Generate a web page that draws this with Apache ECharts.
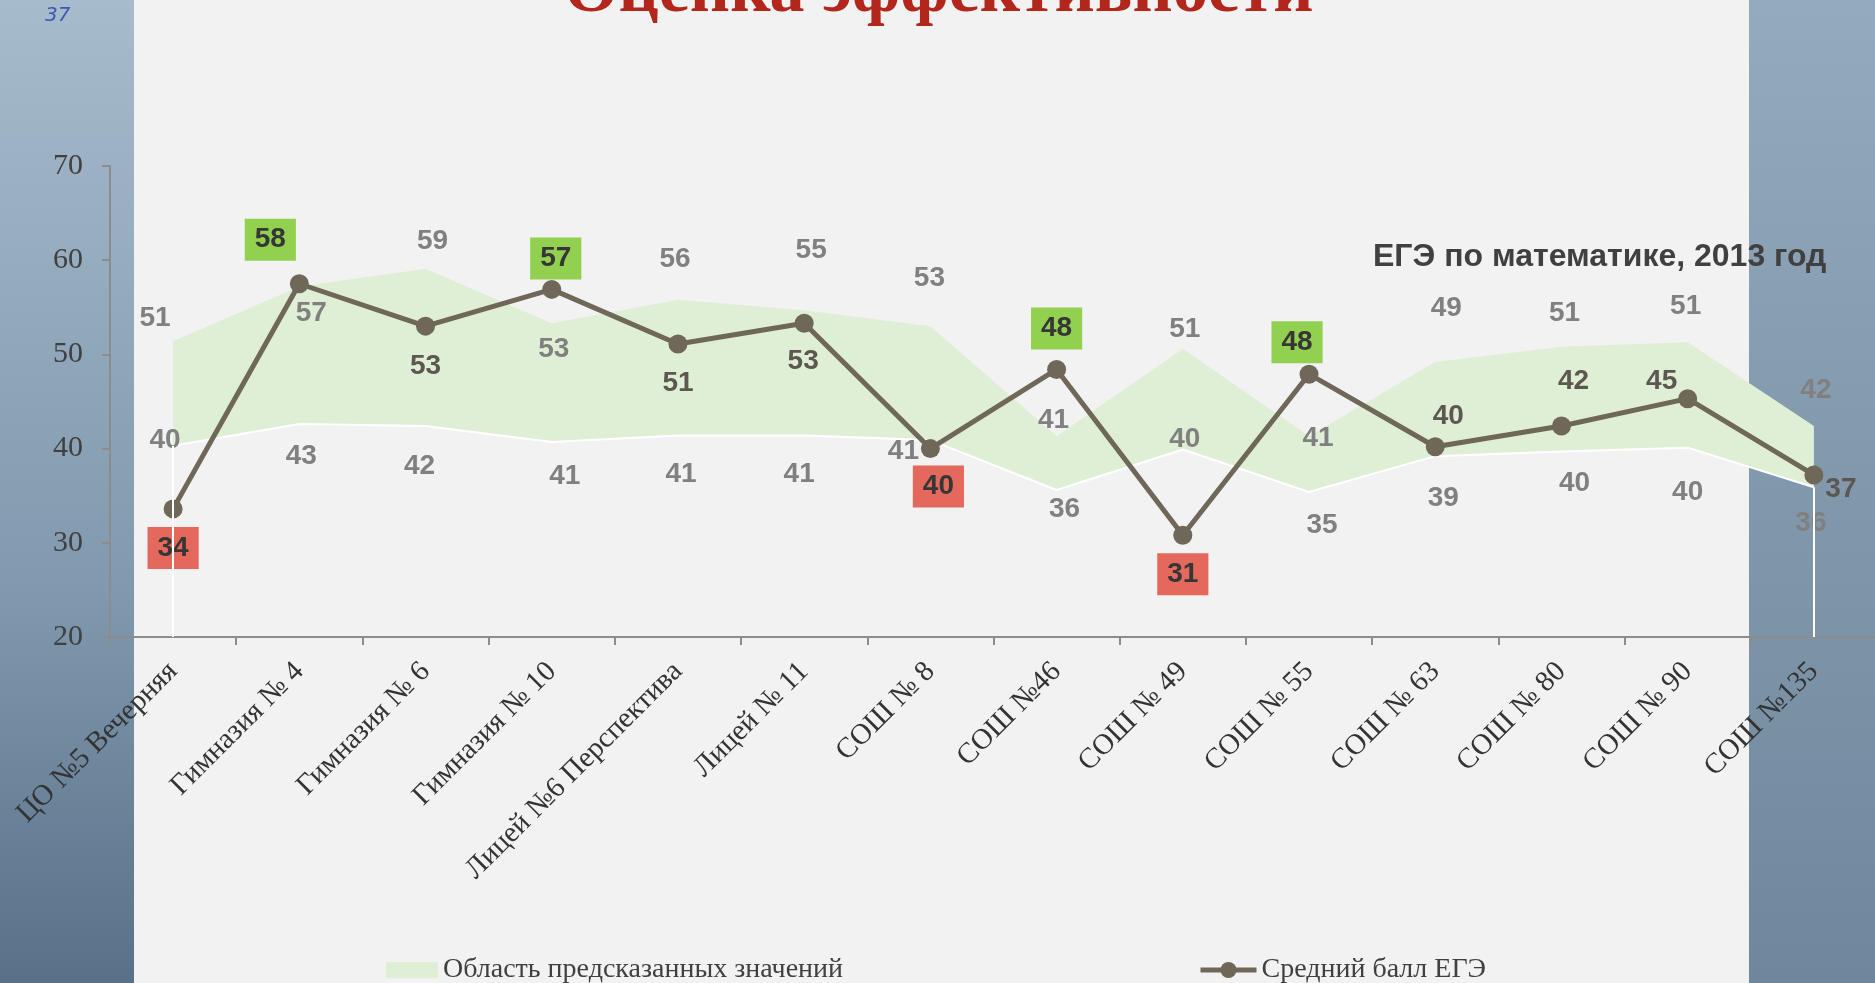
<!DOCTYPE html>
<html>
<head>
<meta charset="utf-8">
<title>Оценка эффективности</title>
<script src="https://cdn.jsdelivr.net/npm/echarts@6/dist/echarts.min.js"></script>
<style>
html, body { margin: 0; padding: 0; background: #f2f2f2; }
#chart { width: 1875px; height: 983px; }
</style>
</head>
<body>
<div id="chart"></div>
<script>
// школы
var schools = ['ЦО №5 Вечерняя', 'Гимназия № 4', 'Гимназия № 6', 'Гимназия № 10', 'Лицей №6 Перспектива', 'Лицей № 11',
	'СОШ № 8', 'СОШ №46', 'СОШ № 49', 'СОШ № 55', 'СОШ № 63', 'СОШ № 80', 'СОШ № 90', 'СОШ №135'];
// нижняя граница области предсказанных значений
var lowerBound = [40.3, 42.6, 42.4, 40.7, 41.4, 41.4, 40.9, 35.6, 39.9, 35.4, 39.2, 39.7, 40.1, 35.9];
// верхняя граница
var upperBound = [51.4, 57.2, 59.1, 53.3, 55.8, 54.7, 53.0, 41.3, 50.6, 41.3, 49.2, 50.8, 51.3, 42.4];
// средний балл ЕГЭ
var avgScore = [33.6, 57.5, 53.0, 56.9, 51.1, 53.3, 40.0, 48.4, 30.8, 47.9, 40.2, 42.4, 45.3, 37.2];
// шкала
var yTicks = [20, 30, 40, 50, 60, 70];

// сдвиги подписей, как на слайде (px от точки)
var avgLabelShift = [[0, 39], [-29, -44], [0, 40], [4, -31], [0, 39], [-1, 38], [8, 38], [0, -41], [0, 39], [-12, -32], [13, -30], [12, -45], [-26, -17], [27, 14]];
var upLabelShift = [[-18, -23], [12, 27], [7, -27], [2, 26], [-3, -40], [7, -60], [-1, -48], [-3, -16], [2, -19], [9, 2], [11, -54], [3, -34], [-2, -36], [2, -36]];
var lowLabelShift = [[-8, -5], [2, 32], [-6, 40], [13, 34], [3, 39], [-5, 39], [-27, 11], [8, 19], [2, -10], [13, 33], [8, 42], [13, 32], [0, 45], [-3, 36]];

var numFont = { fontFamily: 'Liberation Sans', fontWeight: 'bold', fontSize: 28, lineHeight: 28 };

function bandLabel(shift, text) {
	return {
		show: true, position: 'inside', offset: shift, formatter: text,
		color: '#808080', fontFamily: numFont.fontFamily, fontWeight: 'bold', fontSize: numFont.fontSize
	};
}

// нижняя граница (прозрачная, белая линия)
var lowData = lowerBound.map(function(v, i) {
	return { value: v, label: bandLabel(lowLabelShift[i], String(Math.round(v))) };
});
// разница для накопления — зелёная полоса
var bandData = upperBound.map(function(v, i) {
	return { value: +(v - lowerBound[i]).toFixed(2), label: bandLabel(upLabelShift[i], String(Math.round(v))) };
});
// средний балл: зелёный — выше области, красный — ниже
var avgData = avgScore.map(function(v, i) {
	var hi = v > upperBound[i], lo = v < lowerBound[i];
	var lbl = {
		show: true, position: 'inside', offset: avgLabelShift[i], formatter: String(Math.round(v)),
		color: (hi || lo) ? '#363636' : '#5c5750',
		fontFamily: numFont.fontFamily, fontWeight: 'bold', fontSize: numFont.fontSize, lineHeight: numFont.lineHeight
	};
	if (hi || lo) {
		lbl.backgroundColor = hi ? '#92d050' : '#e4695c';
		lbl.padding = [7, 10, 7, 10];
	}
	return { value: v, label: lbl };
});

var chart = echarts.init(document.getElementById('chart'));
var option = {
	animation: false,
	backgroundColor: '#f2f2f2',
	graphic: [
		{ type: 'rect', left: 0, top: 0, z: -10, shape: { width: 134, height: 983 },
			style: { fill: { type: 'linear', x: 0, y: 0, x2: 0, y2: 1, colorStops: [{ offset: 0, color: '#a6bbcc' }, { offset: 0.6, color: '#8199ae' }, { offset: 1, color: '#587188' }] } } },
		{ type: 'rect', left: 1749, top: 0, z: -10, shape: { width: 126, height: 983 },
			style: { fill: { type: 'linear', x: 0, y: 0, x2: 0, y2: 1, colorStops: [{ offset: 0, color: '#94aabd' }, { offset: 1, color: '#6f879c' }] } } },
		{ type: 'text', left: 564, top: -42, z: 10,
			style: { text: 'Оценка эффективности', font: 'bold 70px "Liberation Serif"', fill: '#b3261b' } },
		{ type: 'text', left: 1373, top: 241, z: 10,
			style: { text: 'ЕГЭ по математике, 2013 год', font: 'bold 32px "Liberation Sans"', fill: '#404040' } },
		{ type: 'text', left: 45, top: 6, z: 10,
			style: { text: '37', font: 'italic 20px "DejaVu Sans"', fill: '#3f57b0' } }
	],
	legend: [{
		left: 381, top: 951, itemWidth: 52, itemHeight: 16,
		data: [{ name: 'Область предсказанных значений', icon: 'rect', itemStyle: { color: '#dfefd5', borderWidth: 0 } }],
		textStyle: { fontFamily: 'Liberation Serif', fontSize: 28, color: '#404040' }
	}, {
		left: 1193, top: 951, itemWidth: 56, itemHeight: 20,
		data: ['Средний балл ЕГЭ'],
		lineStyle: { color: '#6f6758', width: 5 },
		textStyle: { fontFamily: 'Liberation Serif', fontSize: 28, color: '#404040' }
	}],
	grid: { left: 110, top: 166, width: 1767, bottom: 346, containLabel: false, outerBoundsMode: 'none' },
	xAxis: {
		type: 'category',
		data: schools,
		boundaryGap: true,
		axisLine: { lineStyle: { color: '#8c8c8c', width: 2 } },
		axisTick: { show: true, length: 8, interval: 0, lineStyle: { color: '#8c8c8c', width: 2 } },
		axisLabel: { interval: 0, rotate: 45, margin: 30, fontFamily: 'Liberation Serif', fontSize: 29, color: '#333333' },
		splitLine: { show: false }
	},
	yAxis: {
		type: 'value',
		min: yTicks[0],
		max: yTicks[yTicks.length - 1],
		interval: yTicks[1] - yTicks[0],
		axisLine: { show: true, lineStyle: { color: '#8c8c8c', width: 2 } },
		axisTick: { show: true, length: 8, lineStyle: { color: '#8c8c8c', width: 2 } },
		axisLabel: { margin: 27, fontFamily: 'Liberation Serif', fontSize: 30, color: '#404040' },
		splitLine: { show: false }
	},
	series: [{
		name: 'нижняя граница',
		type: 'line',
		stack: 'band',
		z: 3,
		data: lowData,
		symbol: 'circle',
		symbolSize: 1,
		itemStyle: { color: 'rgba(0,0,0,0)' },
		lineStyle: { color: '#ffffff', width: 2 },
		markLine: {
			silent: true,
			symbol: ['none', 'none'],
			label: { show: false },
			lineStyle: { color: '#ffffff', width: 2, type: 'solid' },
			data: [
				[{ coord: [0, yTicks[0]] }, { coord: [0, lowerBound[0]] }],
				[{ coord: [schools.length - 1, yTicks[0]] }, { coord: [schools.length - 1, lowerBound[schools.length - 1]] }]
			]
		}
	}, {
		name: 'Область предсказанных значений',
		type: 'line',
		stack: 'band',
		z: 2,
		data: bandData,
		symbol: 'circle',
		symbolSize: 1,
		itemStyle: { color: 'rgba(0,0,0,0)' },
		lineStyle: { width: 0 },
		areaStyle: { color: '#dfefd5', opacity: 1 }
	}, {
		name: 'Средний балл ЕГЭ',
		type: 'line',
		z: 4,
		data: avgData,
		symbol: 'circle',
		symbolSize: 19,
		itemStyle: { color: '#6f6758' },
		lineStyle: { color: '#6f6758', width: 5 }
	}]
};
chart.setOption(option);
</script>
</body>
</html>
